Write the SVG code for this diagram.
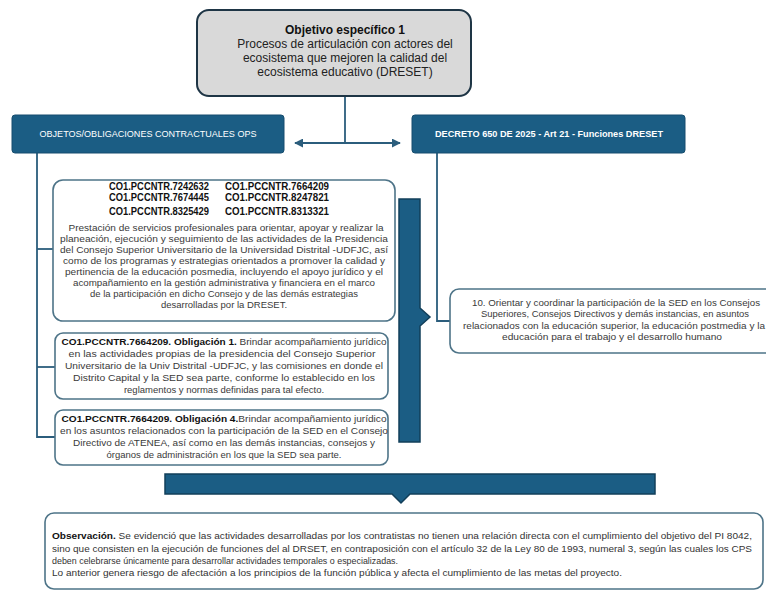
<svg xmlns="http://www.w3.org/2000/svg" width="766" height="590" viewBox="0 0 766 590">
<defs>
<style>
.hdr{fill:#1b5d84;stroke:#174d6e;stroke-width:1}
.hdrt{fill:#fff;font-family:"Liberation Sans",Arial,sans-serif;font-size:9.5px;text-anchor:middle}
.box{fill:#fff;stroke:#4e7488;stroke-width:1.6}
.t{font-family:"Liberation Sans",Arial,sans-serif;font-size:9.5px;fill:#3a3a3a;text-anchor:middle}
.b{font-weight:bold;fill:#111}
.code{font-family:"Liberation Sans",Arial,sans-serif;font-size:10.5px;font-weight:bold;fill:#111;text-anchor:middle}
.top{font-family:"Liberation Sans",Arial,sans-serif;font-size:12px;fill:#222;text-anchor:middle}
.ln{fill:none;stroke:#2b5d7c;stroke-width:1.8}
.blk{fill:#1b5d84;stroke:#123f5a;stroke-width:1.5}
.obs{font-family:"Liberation Sans",Arial,sans-serif;font-size:9px;fill:#333}
</style>
<marker id="ah" viewBox="0 0 10 10" refX="9" refY="5" markerWidth="5" markerHeight="5" orient="auto-start-reverse">
<path d="M0,0 L10,5 L0,10 z" fill="#2b5d7c"/>
</marker>
</defs>
<rect width="766" height="590" fill="#fff"/>

<g id="connectors">
<line class="ln" x1="345" y1="96" x2="345" y2="143"/>
<line class="ln" x1="295" y1="143" x2="400" y2="143" marker-start="url(#ah)" marker-end="url(#ah)"/>
<polyline class="ln" points="37,152 37,437 55,437"/>
<line class="ln" x1="37" y1="249" x2="53" y2="249"/>
<line class="ln" x1="37" y1="367" x2="55" y2="367"/>
<polyline class="ln" points="437,152 437,321 450,321"/>
</g>

<g id="objetivo">
<rect x="197" y="10" width="274" height="86" rx="12" fill="#d9d9d9" stroke="#1e3545" stroke-width="2"/>
<text class="top" x="345" y="34" font-weight="bold" style="fill:#111">Objetivo específico 1</text>
<text class="top" x="345" y="48">Procesos de articulación con actores del</text>
<text class="top" x="345" y="62">ecosistema que mejoren la calidad del</text>
<text class="top" x="345" y="76">ecosistema educativo (DRESET)</text>
</g>

<g id="hdr-obligaciones">
<rect class="hdr" x="12" y="115" width="272" height="38" rx="3"/>
<text class="hdrt" x="148" y="137" textLength="217" lengthAdjust="spacingAndGlyphs">OBJETOS/OBLIGACIONES CONTRACTUALES OPS</text>
</g>

<g id="hdr-decreto">
<rect class="hdr" x="412" y="115" width="273" height="38" rx="3"/>
<text class="hdrt" x="549" y="137" font-weight="bold" textLength="228" lengthAdjust="spacingAndGlyphs">DECRETO 650 DE 2025 - Art 21 - Funciones DRESET</text>
</g>

<g id="box-objeto">
<rect class="box" x="53" y="180" width="342" height="141" rx="10"/>
<text class="code" x="159" y="190" textLength="100" lengthAdjust="spacingAndGlyphs">CO1.PCCNTR.7242632</text>
<text class="code" x="277" y="190" textLength="104" lengthAdjust="spacingAndGlyphs">CO1.PCCNTR.7664209</text>
<text class="code" x="159" y="201" textLength="100" lengthAdjust="spacingAndGlyphs">CO1.PCCNTR.7674445</text>
<text class="code" x="277" y="201" textLength="104" lengthAdjust="spacingAndGlyphs">CO1.PCCNTR.8247821</text>
<text class="code" x="159" y="215" textLength="100" lengthAdjust="spacingAndGlyphs">CO1.PCCNTR.8325429</text>
<text class="code" x="277" y="215" textLength="104" lengthAdjust="spacingAndGlyphs">CO1.PCCNTR.8313321</text>
<text class="t" x="226" y="231" textLength="315" lengthAdjust="spacingAndGlyphs">Prestación de servicios profesionales para orientar, apoyar y realizar la</text>
<text class="t" x="224" y="242" textLength="328" lengthAdjust="spacingAndGlyphs">planeación, ejecución y seguimiento de las actividades de la Presidencia</text>
<text class="t" x="224" y="253" textLength="328" lengthAdjust="spacingAndGlyphs">del Consejo Superior Universitario de la Universidad Distrital -UDFJC, así</text>
<text class="t" x="224" y="264" textLength="322" lengthAdjust="spacingAndGlyphs">como de los programas y estrategias orientados a promover la calidad y</text>
<text class="t" x="224" y="275" textLength="318" lengthAdjust="spacingAndGlyphs">pertinencia de la educación posmedia, incluyendo el apoyo jurídico y el</text>
<text class="t" x="224" y="286" textLength="302" lengthAdjust="spacingAndGlyphs">acompañamiento en la gestión administrativa y financiera en el marco</text>
<text class="t" x="224" y="297" textLength="268" lengthAdjust="spacingAndGlyphs">de la participación en dicho Consejo y de las demás estrategias</text>
<text class="t" x="224" y="308">desarrolladas por la DRESET.</text>
</g>

<g id="box-oblig1">
<rect class="box" x="55" y="333" width="333" height="66" rx="8"/>
<text class="t" x="224" y="345" textLength="325" lengthAdjust="spacingAndGlyphs"><tspan class="b">CO1.PCCNTR.7664209. Obligación 1.</tspan> Brindar acompañamiento jurídico</text>
<text class="t" x="222" y="357" textLength="307" lengthAdjust="spacingAndGlyphs">en las actividades propias de la presidencia del Consejo Superior</text>
<text class="t" x="224" y="369" textLength="318" lengthAdjust="spacingAndGlyphs">Universitario de la Univ Distrital -UDFJC, y las comisiones en donde el</text>
<text class="t" x="224" y="381" textLength="302" lengthAdjust="spacingAndGlyphs">Distrito Capital y la SED sea parte, conforme lo establecido en los</text>
<text class="t" x="224" y="393">reglamentos y normas definidas para tal efecto.</text>
</g>

<g id="box-oblig4">
<rect class="box" x="55" y="410" width="333" height="55" rx="8"/>
<text class="t" x="224" y="422" textLength="325" lengthAdjust="spacingAndGlyphs"><tspan class="b">CO1.PCCNTR.7664209. Obligación 4.</tspan>Brindar acompañamiento jurídico</text>
<text class="t" x="224" y="434" textLength="328" lengthAdjust="spacingAndGlyphs">en los asuntos relacionados con la participación de la SED en el Consejo</text>
<text class="t" x="224" y="446" textLength="302" lengthAdjust="spacingAndGlyphs">Directivo de ATENEA, así como en las demás instancias, consejos y</text>
<text class="t" x="224" y="458">órganos de administración en los que la SED sea parte.</text>
</g>

<g id="arrow-right">
<path class="blk" d="M399,199 H420 V308 L430,317 L420,326 V442 H399 Z"/>
</g>

<g id="box-funcion">
<rect class="box" x="450" y="289" width="330" height="64" rx="9"/>
<text class="t" x="616" y="306" textLength="288" lengthAdjust="spacingAndGlyphs">10. Orientar y coordinar la participación de la SED en los Consejos</text>
<text class="t" x="615" y="317" textLength="268" lengthAdjust="spacingAndGlyphs">Superiores, Consejos Directivos y demás instancias, en asuntos</text>
<text class="t" x="614" y="329" textLength="302" lengthAdjust="spacingAndGlyphs">relacionados con la educación superior, la educación postmedia y la</text>
<text class="t" x="612" y="340" textLength="220" lengthAdjust="spacingAndGlyphs">educación para el trabajo y el desarrollo humano</text>
</g>

<g id="arrow-down">
<path class="blk" d="M165,474 H655 V494 H410 L401,503 L392,494 H165 Z"/>
</g>

<g id="box-observacion">
<rect class="box" x="45" y="513" width="718" height="76" rx="9"/>
<text class="obs" x="52" y="539" textLength="700" lengthAdjust="spacingAndGlyphs"><tspan font-weight="bold" style="fill:#111">Observación.</tspan> Se evidenció que las actividades desarrolladas por los contratistas no tienen una relación directa con el cumplimiento del objetivo del PI 8042,</text>
<text class="obs" x="52" y="552" textLength="700" lengthAdjust="spacingAndGlyphs">sino que consisten en la ejecución de funciones del al DRSET, en contraposición con el artículo 32 de la Ley 80 de 1993, numeral 3, según las cuales los CPS</text>
<text class="obs" x="52" y="564" textLength="346" lengthAdjust="spacingAndGlyphs">deben celebrarse únicamente para desarrollar actividades temporales o especializadas.</text>
<text class="obs" x="52" y="576" textLength="570" lengthAdjust="spacingAndGlyphs">Lo anterior genera riesgo de afectación a los principios de la función pública y afecta el cumplimiento de las metas del proyecto.</text>
</g>
</svg>
